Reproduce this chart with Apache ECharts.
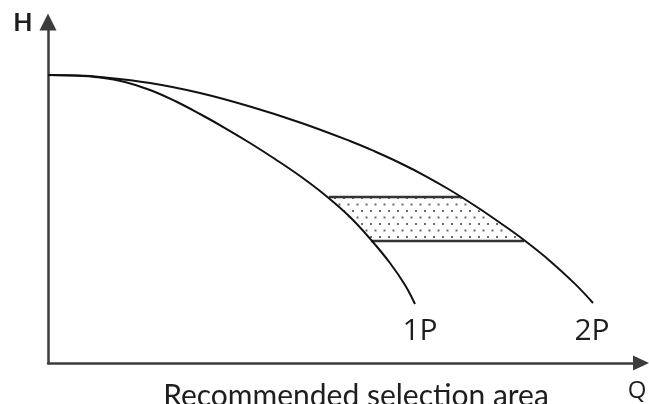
<!DOCTYPE html>
<html>
<head>
<meta charset="utf-8">
<style>
html,body{margin:0;padding:0;background:#fff;}
#chart{width:649px;height:404px;}
</style>
<script src="https://cdn.jsdelivr.net/npm/echarts@6/dist/echarts.min.js"></script>
</head>
<body>
<div id="chart"></div>
<script>
// Pump curve 1P (single pump): flow Q and head H (relative units 0-100)
const q1P = [0, 4.55, 8.77, 12.98, 17.20, 21.42, 25.63, 29.85, 34.06, 38.28, 42.50, 46.71, 50.93, 54.64, 57.67, 60.20, 61.89];
const h1P = [84.46, 84.31, 83.72, 82.40, 80.06, 76.83, 73.02, 68.91, 64.52, 59.82, 54.84, 49.27, 42.82, 35.78, 29.33, 22.87, 17.30];
// Pump curve 2P (two pumps in parallel)
const q2P = [0, 4.55, 8.77, 17.20, 25.63, 34.06, 42.50, 50.93, 55.14, 59.36, 63.58, 67.79, 72.01, 76.22, 80.10, 84.65, 88.87, 91.91];
const h2P = [84.46, 84.31, 83.87, 82.11, 79.18, 75.22, 70.53, 65.10, 62.02, 58.65, 54.91, 50.73, 46.11, 41.13, 36.28, 29.94, 23.20, 17.60];
// Recommended selection area (polygon corners)
const areaQ = [47.39, 69.48, 80.27, 54.47];
const areaH = [48.68, 48.68, 35.78, 35.78];
// Texts
const curveLabels = ['1P', '2P'];
const axisNames = ['Q', 'H'];
const caption = 'Recommended selection area';

const pair = (xs, ys) => xs.map((x, i) => [x, ys[i]]);

// dotted fill pattern
const pat = document.createElement('canvas');
pat.width = 9; pat.height = 13;
const pc = pat.getContext('2d');
pc.fillStyle = '#6a6a6a';
pc.fillRect(1, 2, 2, 2);
pc.fillRect(5.5, 8.5, 2, 2);

const chart = echarts.init(document.getElementById('chart'), null, {renderer: 'canvas'});
const axisCommon = {
  type: 'value', min: 0, max: 100,
  axisLabel: {show: false}, axisTick: {show: false}, splitLine: {show: false},
};
chart.setOption({
  animation: false,
  grid: {left: 48, right: 8, top: 22, bottom: 41},
  xAxis: Object.assign({}, axisCommon, {
    axisLine: {show: true, lineStyle: {color: '#3c3c3c', width: 2.5}, symbol: ['none', 'triangle'], symbolSize: [15, 16]}
  }),
  yAxis: Object.assign({}, axisCommon, {
    axisLine: {show: true, lineStyle: {color: '#3c3c3c', width: 2.5}, symbol: ['none', 'triangle'], symbolSize: [17, 17]}
  }),
  series: [
    {
      type: 'custom',
      data: [0],
      z: 1,
      renderItem: function (params, api) {
        const pts = areaQ.map((q, i) => api.coord([q, areaH[i]]));
        return {
          type: 'group',
          children: [
            {type: 'polygon', shape: {points: pts}, style: {fill: {image: pat, repeat: 'repeat'}, stroke: null}},
            {type: 'polyline', shape: {points: [pts[0], pts[1]]}, style: {stroke: '#333', lineWidth: 2.4, fill: null}},
            {type: 'polyline', shape: {points: [pts[3], pts[2]]}, style: {stroke: '#333', lineWidth: 2.4, fill: null}}
          ]
        };
      }
    },
    {
      type: 'line', data: pair(q1P, h1P), smooth: 0.4, symbol: 'none', z: 3,
      lineStyle: {color: '#111', width: 2}
    },
    {
      type: 'line', data: pair(q2P, h2P), smooth: 0.4, symbol: 'none', z: 3,
      lineStyle: {color: '#111', width: 2}
    }
  ],
  graphic: [
    {type: 'text', style: {text: curveLabels[0], font: '30px "Open Sans"', fill: '#1e1e1e', align: 'center', verticalAlign: 'middle', x: 420, y: 331}},
    {type: 'text', style: {text: curveLabels[1], font: '30px "Open Sans"', fill: '#1e1e1e', align: 'center', verticalAlign: 'middle', x: 592, y: 331}},
    {type: 'text', style: {text: axisNames[0], font: '24px "Open Sans"', fill: '#1e1e1e', align: 'center', verticalAlign: 'middle', x: 637, y: 391}},
    {type: 'text', style: {text: axisNames[1], font: 'bold 25px Lato', fill: '#1e1e1e', align: 'center', verticalAlign: 'middle', x: 23, y: 23}},
    {type: 'text', style: {text: caption, font: '30px Lato', fill: '#1e1e1e', align: 'center', verticalAlign: 'middle', x: 356, y: 396}}
  ]
});
</script>
</body>
</html>
